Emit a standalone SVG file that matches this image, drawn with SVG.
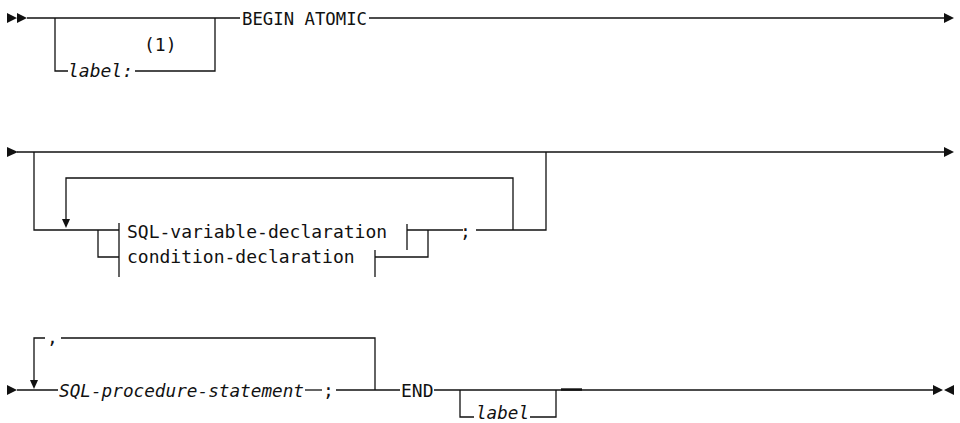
<svg xmlns="http://www.w3.org/2000/svg" width="960" height="423" viewBox="0 0 960 423">
<style>
.t{font-family:"DejaVu Sans Mono","Liberation Mono",monospace;font-size:18px;fill:#111}
.i{font-style:italic}
.c path{stroke:#111;stroke-width:1.3;fill:none}
.c path.a{fill:#111;stroke:none}
</style>
<rect width="960" height="423" fill="#fff"/>
<g id="connectors" class="c">
  <path d="M27 18H240"/>
  <path d="M55 18V71H68"/>
  <path d="M135 71H215V18"/>
  <path d="M369 18H944"/>
  <path d="M17 152H944"/>
  <path d="M34 152V230H119"/>
  <path d="M66 220V178H513V230"/>
  <path d="M119 223V277"/>
  <path d="M98 230V257H119"/>
  <path d="M407 224V250"/>
  <path d="M407 230H463"/>
  <path d="M476 230H546V152"/>
  <path d="M375 250V277"/>
  <path d="M375 257H428V230"/>
  <path d="M17 390H58"/>
  <path d="M34 381V338H45"/>
  <path d="M61 338H375V390"/>
  <path d="M305 390H322"/>
  <path d="M336 390H400"/>
  <path d="M434 390H933"/>
  <path d="M460 390V417H474"/>
  <path d="M530 417H556V390"/>
  <path d="M561 389.5H582" style="stroke-width:2.4"/>
  <path class="a" d="M7 13L17 18L7 23Z M17 13L27 18L17 23Z"/>
  <path class="a" d="M944 13L954 18L944 23Z"/>
  <path class="a" d="M7 147L18 152L7 157Z"/>
  <path class="a" d="M944 147L954 152L944 157Z"/>
  <path class="a" d="M62 219L70 219L66 228Z"/>
  <path class="a" d="M7 385L17 390L7 395Z"/>
  <path class="a" d="M30 380L38 380L34 389Z"/>
  <path class="a" d="M933 385L943 390L933 395Z M954 385L944 390L954 395Z"/>
</g>
<g id="node-begin-atomic"><text class="t" x="242" y="24.5" textLength="125" lengthAdjust="spacingAndGlyphs">BEGIN ATOMIC</text></g>
<g id="node-label-opt"><text class="t i" x="68" y="77" textLength="65" lengthAdjust="spacingAndGlyphs">label:</text></g>
<g id="note-1"><text class="t" x="144" y="51">(1)</text></g>
<g id="node-sql-variable-declaration"><text class="t" x="127" y="237.5">SQL-variable-declaration</text></g>
<g id="node-condition-declaration"><text class="t" x="127" y="263">condition-declaration</text></g>
<g id="node-semicolon-1"><text class="t" x="460" y="237.5">;</text></g>
<g id="node-comma"><text class="t" x="47" y="344">,</text></g>
<g id="node-sql-procedure-statement"><text class="t i" x="59" y="397" textLength="245" lengthAdjust="spacingAndGlyphs">SQL-procedure-statement</text></g>
<g id="node-semicolon-2"><text class="t" x="323" y="397">;</text></g>
<g id="node-end"><text class="t" x="401" y="397">END</text></g>
<g id="node-label-end"><text class="t i" x="476" y="419" font-size="17" textLength="53" lengthAdjust="spacingAndGlyphs">label</text></g>
</svg>
